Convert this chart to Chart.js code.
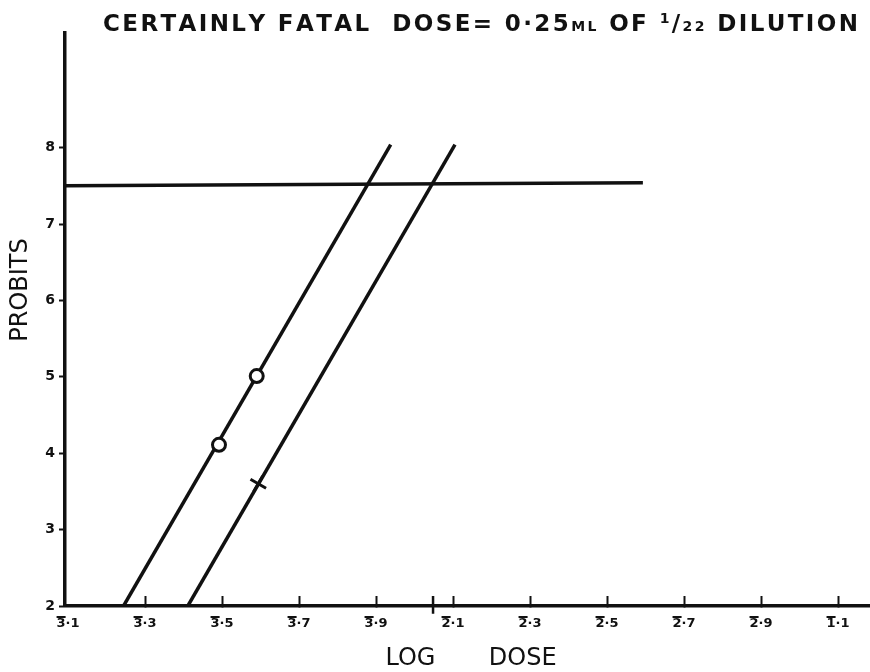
<!DOCTYPE html>
<html>
<head>
<meta charset="utf-8">
<script src="https://cdn.jsdelivr.net/npm/chart.js@4.4.0/dist/chart.umd.min.js"></script>
<style>
  html, body { margin: 0; padding: 0; background: #fff; }
</style>
</head>
<body>
<canvas id="probitChart" width="870" height="672"></canvas>
<script>
// log dose axis in bar notation (3̄·1 = -2.9, 2̄·1 = -1.9, 1̄·1 = -0.9);
// the bar over the characteristic is drawn by the figureText plugin
var xTickValues = [-2.9, -2.7, -2.5, -2.3, -2.1, -1.9, -1.7, -1.5, -1.3, -1.1, -0.9];
var xTickLabels = ['3·1', '3·3', '3·5', '3·7', '3·9', '2·1', '2·3', '2·5', '2·7', '2·9', '1·1'];
var yTickValues = [2, 3, 4, 5, 6, 7, 8];

// fitted probit lines
var lineAX = [-2.756, -2.062];
var lineAY = [2, 8.04];
var lineBX = [-2.589, -1.895];
var lineBY = [2, 8.04];

// observed points
var circleX = [-2.508, -2.410];
var circleY = [4.11, 5.01];
var crossX = [-2.406];
var crossY = [3.60];

// certainly fatal level
var fatalX = [-2.908, -1.407];
var fatalY = [7.50, 7.54];

// certainly fatal dose marker on the axis
var markX = [-1.952, -1.952];
var markY = [2.13, 1.90];

var ink = '#111';
var tickFont = { family: 'DejaVu Sans', size: 13, weight: 'bold' };

function toPoints(xs, ys) {
    return xs.map(function (x, i) { return { x: x, y: ys[i] }; });
}

// title pieces: ML in small capitals, 1/22 as a built-up fraction
var titleParts = [
    { text: 'CERTAINLY FATAL  DOSE= 0·25', size: 23, dy: 0 },
    { text: 'ML', size: 14, dy: 0 },
    { text: ' OF ', size: 23, dy: 0 },
    { text: '1', size: 14, dy: -8 },
    { text: '/', size: 23, dy: 0 },
    { text: '22', size: 14, dy: 0 },
    { text: ' DILUTION', size: 23, dy: 0 }
];

function titleFont(p) {
    return 'bold ' + p.size + 'px "DejaVu Sans"';
}

const figureText = {
    id: 'figureText',
    afterDraw(chart) {
        const ctx = chart.ctx;
        ctx.save();
        ctx.fillStyle = ink;
        ctx.strokeStyle = ink;

        // title, spaced out to run from x=103 to x=858
        ctx.textBaseline = 'alphabetic';
        ctx.textAlign = 'left';
        let natural = 0, chars = 0;
        titleParts.forEach(function (p) {
            ctx.font = titleFont(p);
            for (const ch of p.text) {
                natural += ctx.measureText(ch).width;
                chars += 1;
            }
        });
        const spacing = (858 - 103 - natural) / (chars - 1);
        let x = 103;
        titleParts.forEach(function (p) {
            ctx.font = titleFont(p);
            for (const ch of p.text) {
                ctx.fillText(ch, x, 31 + p.dy);
                x += ctx.measureText(ch).width + spacing;
            }
        });

        // bar over the characteristic of each log dose label
        const xs = chart.scales.x;
        ctx.font = 'bold 13px "DejaVu Sans"';
        ctx.lineWidth = 2;
        xTickValues.forEach(function (v, i) {
            const px = xs.getPixelForValue(v);
            const w = ctx.measureText(xTickLabels[i]).width;
            const d = ctx.measureText(xTickLabels[i][0]).width;
            const left = px - w / 2;
            ctx.beginPath();
            ctx.moveTo(left, chart.chartArea.bottom + 11);
            ctx.lineTo(left + d, chart.chartArea.bottom + 11);
            ctx.stroke();
        });

        // axis names
        ctx.font = '24px "DejaVu Sans"';
        ctx.textAlign = 'center';
        ctx.textBaseline = 'middle';
        ctx.fillText('LOG       DOSE', 471, 659);

        ctx.translate(21, 290);
        ctx.rotate(-Math.PI / 2);
        ctx.fillText('PROBITS', 0, 0);
        ctx.restore();
    }
};

const ctx = document.getElementById('probitChart').getContext('2d');
const probitChart = new Chart(ctx, {
    type: 'scatter',
    data: {
        datasets: [
            {
                label: 'circles',
                data: toPoints(circleX, circleY),
                pointStyle: 'circle',
                pointRadius: 6.5,
                borderWidth: 3,
                borderColor: ink,
                backgroundColor: '#fff'
            },
            {
                label: 'crosses',
                data: toPoints(crossX, crossY),
                pointStyle: 'cross',
                pointRotation: 30,
                pointRadius: 9,
                borderWidth: 3,
                borderColor: ink
            },
            {
                label: 'line A',
                data: toPoints(lineAX, lineAY),
                showLine: true,
                pointRadius: 0,
                borderWidth: 3.5,
                borderColor: ink
            },
            {
                label: 'line B',
                data: toPoints(lineBX, lineBY),
                showLine: true,
                pointRadius: 0,
                borderWidth: 3.5,
                borderColor: ink
            },
            {
                label: 'fatal level',
                data: toPoints(fatalX, fatalY),
                showLine: true,
                pointRadius: 0,
                borderWidth: 3.5,
                borderColor: ink
            },
            {
                label: 'fatal dose',
                data: toPoints(markX, markY),
                showLine: true,
                clip: false,
                pointRadius: [0, 4],
                pointStyle: 'triangle',
                pointRotation: 180,
                borderWidth: 2.5,
                borderColor: ink,
                backgroundColor: ink
            }
        ]
    },
    options: {
        responsive: false,
        animation: false,
        layout: { autoPadding: false, padding: { top: 33, left: 0, right: 0, bottom: 0 } },
        plugins: {
            legend: { display: false },
            title: { display: false },
            tooltip: { enabled: false }
        },
        scales: {
            x: {
                type: 'linear',
                min: -2.908,
                max: -0.817,
                afterBuildTicks: function (s) { s.ticks = xTickValues.map(function (v) { return { value: v }; }); },
                afterFit: function (s) { s.height = 66; s.paddingLeft = 0; s.paddingRight = 0; },
                border: { display: true, color: ink, width: 3.5 },
                grid: {
                    drawOnChartArea: false,
                    drawTicks: true,
                    tickLength: -10,
                    tickWidth: 2,
                    color: ink,
                    // first tick sits on the probit axis, leave it out
                    tickColor: function (c) { return c.index === 0 ? 'rgba(0,0,0,0)' : ink; }
                },
                ticks: {
                    color: ink,
                    autoSkip: false,
                    maxRotation: 0,
                    padding: 20,
                    font: tickFont,
                    callback: function (value, index) { return xTickLabels[index]; }
                }
            },
            y: {
                type: 'linear',
                min: 2,
                max: 9.5,
                afterBuildTicks: function (s) { s.ticks = yTickValues.map(function (v) { return { value: v }; }); },
                afterFit: function (s) { s.width = 65; },
                border: { display: true, color: ink, width: 3.5 },
                grid: { drawOnChartArea: false, drawTicks: true, tickLength: 6, tickWidth: 2, color: ink },
                ticks: {
                    color: ink,
                    padding: 4,
                    font: { family: 'DejaVu Sans', size: 14, weight: 'bold' }
                }
            }
        }
    },
    plugins: [figureText]
});
</script>
</body>
</html>
